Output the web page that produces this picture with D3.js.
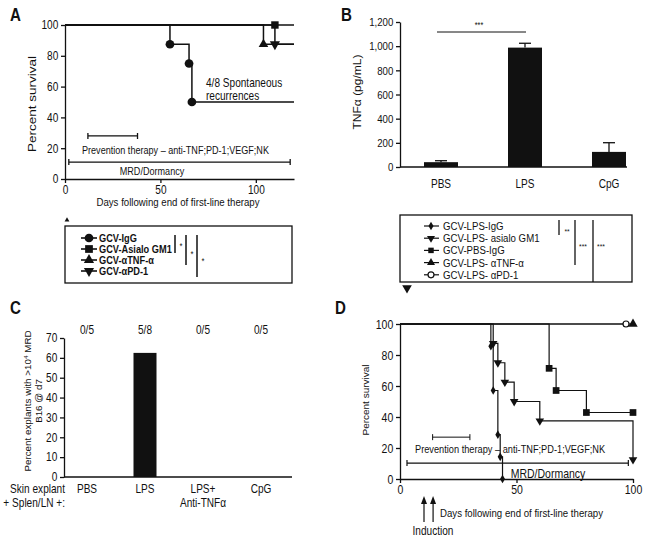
<!DOCTYPE html>
<html><head><meta charset="utf-8">
<script src="https://cdn.jsdelivr.net/npm/d3@7"></script>
<style>
body{margin:0;background:#fff;}
</style></head><body>
<svg id="fig" width="648" height="541" xmlns="http://www.w3.org/2000/svg"></svg>
<script>
// ================= DATA =================
// Panel A – Kaplan-Meier survival
const aNames = ['GCV-IgG', 'GCV-Asialo GM1', 'GCV-αTNF-α', 'GCV-αPD-1'];
const aIgGDays = [0, 55, 65, 66.5, 120];
const aIgGSurv = [100, 87.5, 75, 50, 50];
const aIgGMarkDays = [55, 65, 66.5];
const aIgGMarkSurv = [87.5, 75, 50];
const aAsialoDays = [0, 120];
const aAsialoSurv = [100, 100];
const aAsialoMarkDays = [110];
const aAsialoMarkSurv = [100];
const aTnfDays = [0, 104, 120];
const aTnfSurv = [100, 87.5, 87.5];
const aTnfMarkDays = [104];
const aTnfMarkSurv = [87.5];
const aPd1Days = [0, 110, 120];
const aPd1Surv = [100, 87.5, 87.5];
const aPd1MarkDays = [110];
const aPd1MarkSurv = [87.5];
const aXTicks = [0, 50, 100];
const aYTicks = [0, 20, 40, 60, 80, 100];
const aPrevention = [12, 38];
const aMRD = [2, 118];
const aSig = ['*', '*', '*'];

// Panel B – TNFα bars
const bCats = ['PBS', 'LPS', 'CpG'];
const bValues = [40, 988, 125];
const bErrors = [12, 36, 76];
const bYTicks = [0, 200, 400, 600, 800, 1000, 1200];
const bNames = ['GCV-LPS-IgG', 'GCV-LPS- asialo GM1', 'GCV-PBS-IgG', 'GCV-LPS- αTNF-α', 'GCV-LPS- αPD-1'];
const bSig = ['**', '***', '***'];

// Panel C – explants
const cCats = ['PBS', 'LPS', 'LPS+', 'CpG'];
const cSubLabels = ['', '', 'Anti-TNFα', ''];
const cValues = [0, 62.5, 0, 0];
const cCounts = ['0/5', '5/8', '0/5', '0/5'];
const cYTicks = [0, 10, 20, 30, 40, 50, 60, 70];

// Panel D – Kaplan-Meier survival
const dLpsIgGDays = [0, 39, 40, 42, 43, 44];
const dLpsIgGSurv = [100, 85.7, 57.1, 28.6, 14.3, 0];
const dAsialoDays = [0, 40, 42, 45, 49, 60, 100];
const dAsialoSurv = [100, 87.5, 75, 62.5, 50, 37.5, 12.5];
const dPbsIgGDays = [0, 64, 67, 80, 100];
const dPbsIgGSurv = [100, 71.4, 57.1, 42.9, 42.9];
const dTnfDays = [0, 100];
const dTnfSurv = [100, 100];
const dPd1Days = [0, 97];
const dPd1Surv = [100, 100];
const dXTicks = [0, 50, 100];
const dYTicks = [0, 20, 40, 60, 80, 100];
const dPrevention = [14, 30];
const dMRD = [3, 98];
const dInduction = [10.3, 14.2];

// ================= STYLE / HELPERS =================
const SANS = "'Liberation Sans',Arial,sans-serif";
const SX = 0.84; // horizontal condensation of the reference lettering
const INK = '#111';
const svg = d3.select('#fig');
svg.append('rect').attr('width', 648).attr('height', 541).attr('fill', '#fff');

const symTypes = {circle: d3.symbolCircle, square: d3.symbolSquare, triangle: d3.symbolTriangle,
  triangleDown: d3.symbolTriangle, diamond: d3.symbolDiamond, circleOpen: d3.symbolCircle};
function drawSym(g, kind, size, x, y) {
  const p = g.append('path')
    .attr('d', d3.symbol().type(symTypes[kind]).size(size)())
    .attr('transform', `translate(${x},${y})` + (kind === 'triangleDown' ? ' rotate(180)' : ''));
  if (kind === 'circleOpen') p.attr('fill', '#fff').attr('stroke', INK).attr('stroke-width', 1.2);
  else p.attr('fill', INK);
  return p;
}
function txt(g, x, y, s, size, opts = {}) {
  const t = g.append('text').attr('transform', `translate(${x},${y}) scale(${SX},1)`).text(s)
    .attr('font-family', SANS).attr('font-size', size)
    .attr('fill', INK).attr('text-anchor', opts.anchor || 'start');
  if (opts.weight) t.attr('font-weight', opts.weight);
  return t;
}
function vtxt(g, cx, cy, s, size) {
  return g.append('text').attr('transform', `translate(${cx},${cy}) rotate(-90) scale(1,${SX})`)
    .attr('text-anchor', 'middle').attr('font-family', SANS)
    .attr('font-size', size).attr('fill', INK).text(s);
}
function bracket(g, x1, x2, y, cap, w) {
  const p = d3.path();
  p.moveTo(x1, y); p.lineTo(x2, y);
  p.moveTo(x1, y - cap); p.lineTo(x1, y + cap);
  p.moveTo(x2, y - cap); p.lineTo(x2, y + cap);
  g.append('path').attr('d', p.toString()).attr('stroke', INK).attr('stroke-width', w || 1.3).attr('fill', 'none');
}
function styleAxis(sel, fontSize) {
  sel.selectAll('path,line').attr('stroke', INK).attr('stroke-width', 1.3);
  sel.selectAll('text').attr('font-family', SANS).attr('font-size', fontSize).attr('fill', INK)
    .attr('transform', `scale(${SX},1)`);
}
function km(g, x, y, days, surv, w) {
  const pts = days.map((t, i) => ({t, s: surv[i]}));
  g.append('path').datum(pts)
    .attr('d', d3.line().x(d => x(d.t)).y(d => y(d.s)).curve(d3.curveStepAfter))
    .attr('fill', 'none').attr('stroke', INK).attr('stroke-width', w || 1.5);
}
function marks(g, x, y, days, surv, kind, size) {
  days.forEach((t, i) => drawSym(g, kind, size, x(t), y(surv[i])));
}

// ================= PANEL A =================
{
  const g = svg.append('g');
  const x = d3.scaleLinear().domain([0, 120]).range([65, 294]);
  const y = d3.scaleLinear().domain([0, 100]).range([179, 25]);
  txt(g, 10, 21, 'A', 18, {weight: 'bold'});
  km(g, x, y, aAsialoDays, aAsialoSurv);
  km(g, x, y, aTnfDays, aTnfSurv);
  km(g, x, y, aPd1Days, aPd1Surv);
  km(g, x, y, aIgGDays, aIgGSurv);
  marks(g, x, y, aIgGMarkDays, aIgGMarkSurv, 'circle', 60);
  marks(g, x, y, aTnfMarkDays, aTnfMarkSurv, 'triangle', 40);
  marks(g, x, y, aPd1MarkDays, aPd1MarkSurv, 'triangleDown', 45);
  marks(g, x, y, aAsialoMarkDays, aAsialoMarkSurv, 'square', 55);
  const ay = g.append('g').attr('transform', `translate(${x(0)},0)`)
    .call(d3.axisLeft(y).tickValues(aYTicks).tickSize(4).tickSizeOuter(0).tickPadding(4));
  styleAxis(ay, 12);
  const ax = g.append('g').attr('transform', `translate(0,${y(0)})`)
    .call(d3.axisBottom(x).tickValues(aXTicks).tickSize(4).tickSizeOuter(0).tickPadding(2));
  styleAxis(ax, 12);
  vtxt(g, 36, 104, 'Percent survival', 13.5);
  txt(g, 178, 206, 'Days following end of first-line therapy', 11.5, {anchor: 'middle'});
  txt(g, 206, 87, '4/8 Spontaneous', 12);
  txt(g, 206, 99.5, 'recurrences', 12);
  bracket(g, x(aPrevention[0]), x(aPrevention[1]), y(28), 3);
  txt(g, 82, 154, 'Prevention therapy – anti-TNF;PD-1;VEGF;NK', 10.8);
  bracket(g, x(aMRD[0]), x(aMRD[1]), y(11), 3);
  txt(g, 152, 175, 'MRD/Dormancy', 10.8, {anchor: 'middle'});

  // legend A
  drawSym(g, 'triangle', 10, 67, 220);
  g.append('rect').attr('x', 65).attr('y', 226).attr('width', 227).attr('height', 57)
    .attr('fill', 'none').attr('stroke', INK).attr('stroke-width', 1.3);
  const kinds = ['circle', 'square', 'triangle', 'triangleDown'];
  const sizes = [60, 60, 45, 45];
  aNames.forEach((n, i) => {
    const cy = 238 + i * 11;
    g.append('line').attr('x1', 81).attr('x2', 97).attr('y1', cy).attr('y2', cy)
      .attr('stroke', INK).attr('stroke-width', 1.6);
    drawSym(g, kinds[i], sizes[i], 89, cy);
    txt(g, 99, cy + 4, n, 11, {weight: 'bold'});
  });
  aSig.forEach((s, i) => {
    const lx = 175 + i * 11;
    g.append('line').attr('x1', lx).attr('x2', lx).attr('y1', 235).attr('y2', 253 + i * 12)
      .attr('stroke', INK).attr('stroke-width', 1.5);
    txt(g, lx + 6, 249 + i * 7.5, s, 9, {anchor: 'middle'});
  });
}

// ================= PANEL B =================
{
  const g = svg.append('g');
  const y = d3.scaleLinear().domain([0, 1200]).range([167, 22]);
  const x = d3.scalePoint().domain(bCats).range([441, 609]);
  const bw = 34;
  txt(g, 341, 21, 'B', 18, {weight: 'bold'});
  bCats.forEach((c, i) => {
    const cx = x(c);
    g.append('line').attr('x1', cx).attr('x2', cx).attr('y1', y(bValues[i])).attr('y2', y(bValues[i] + bErrors[i]))
      .attr('stroke', INK).attr('stroke-width', 1.3);
    g.append('line').attr('x1', cx - 6).attr('x2', cx + 6)
      .attr('y1', y(bValues[i] + bErrors[i])).attr('y2', y(bValues[i] + bErrors[i]))
      .attr('stroke', INK).attr('stroke-width', 1.3);
  });
  g.selectAll('rect.bar').data(bValues).join('rect').attr('class', 'bar')
    .attr('x', (d, i) => x(bCats[i]) - bw / 2).attr('width', bw)
    .attr('y', d => y(d)).attr('height', d => y(0) - y(d)).attr('fill', INK);
  const ay = g.append('g').attr('transform', 'translate(400,0)')
    .call(d3.axisLeft(y).tickValues(bYTicks).tickFormat(d3.format(',')).tickSize(4).tickSizeOuter(0).tickPadding(4));
  styleAxis(ay, 11.5);
  g.append('line').attr('x1', 400).attr('x2', 627).attr('y1', y(0)).attr('y2', y(0))
    .attr('stroke', INK).attr('stroke-width', 1.3);
  bCats.forEach(c => txt(g, x(c), 188, c, 12, {anchor: 'middle'}));
  vtxt(g, 361, 92, 'TNFα (pg/mL)', 12);
  g.append('line').attr('x1', 437).attr('x2', 526).attr('y1', 32).attr('y2', 32)
    .attr('stroke', INK).attr('stroke-width', 1);
  txt(g, 479, 28, '***', 8.5, {anchor: 'middle'});

  // legend B
  g.append('rect').attr('x', 400).attr('y', 215).attr('width', 232).attr('height', 67)
    .attr('fill', 'none').attr('stroke', INK).attr('stroke-width', 1.3);
  const kinds = ['diamond', 'triangleDown', 'square', 'triangle', 'circleOpen'];
  const sizes = [22, 28, 30, 28, 28];
  bNames.forEach((n, i) => {
    const cy = 226 + i * 12.2;
    g.append('line').attr('x1', 424).attr('x2', 439).attr('y1', cy).attr('y2', cy)
      .attr('stroke', INK).attr('stroke-width', 1.2);
    drawSym(g, kinds[i], sizes[i], 431, cy);
    txt(g, 443, cy + 4, n, 11.5);
  });
  const sx = [559, 575, 593];
  const sEnd = [235, 265, 282];
  const sTy = [234, 249, 249];
  bSig.forEach((s, i) => {
    g.append('line').attr('x1', sx[i]).attr('x2', sx[i]).attr('y1', 220).attr('y2', sEnd[i])
      .attr('stroke', INK).attr('stroke-width', 1.3);
    txt(g, sx[i] + 8, sTy[i], s, 8, {anchor: 'middle'});
  });
  drawSym(g, 'triangleDown', 40, 407, 288);
}

// ================= PANEL C =================
{
  const g = svg.append('g');
  const y = d3.scaleLinear().domain([0, 70]).range([477, 338]);
  const x = d3.scalePoint().domain(cCats).range([87, 261]);
  const bw = 23;
  txt(g, 10, 314, 'C', 18, {weight: 'bold'});
  g.selectAll('rect.bar').data(cValues).join('rect').attr('class', 'bar')
    .attr('x', (d, i) => x(cCats[i]) - bw / 2).attr('width', bw)
    .attr('y', d => y(d)).attr('height', d => y(0) - y(d)).attr('fill', INK);
  const ay = g.append('g').attr('transform', 'translate(64,0)')
    .call(d3.axisLeft(y).tickValues(cYTicks).tickSize(4).tickSizeOuter(0).tickPadding(4));
  styleAxis(ay, 12);
  g.append('line').attr('x1', 64).attr('x2', 292).attr('y1', y(0)).attr('y2', y(0))
    .attr('stroke', INK).attr('stroke-width', 1.3);
  cCats.forEach((c, i) => {
    txt(g, x(c), 493, c, 12, {anchor: 'middle'});
    if (cSubLabels[i]) txt(g, x(c), 507, cSubLabels[i], 12, {anchor: 'middle'});
    txt(g, x(c), 334, cCounts[i], 12, {anchor: 'middle'});
  });
  txt(g, 65, 493, 'Skin explant', 12, {anchor: 'end'});
  txt(g, 65, 507, '+ Splen/LN +:', 12, {anchor: 'end'});
  const yl = g.append('text').attr('transform', `translate(31,401) rotate(-90) scale(1,${SX})`)
    .attr('text-anchor', 'middle').attr('font-family', SANS).attr('font-size', 9.8).attr('fill', INK);
  yl.append('tspan').text('Percent explants with >10');
  yl.append('tspan').attr('dy', -4).attr('font-size', 6.5).text('4');
  yl.append('tspan').attr('dy', 4).text(' MRD');
  vtxt(g, 42, 401, 'B16 @ d7', 9.8);
}

// ================= PANEL D =================
{
  const g = svg.append('g');
  const x = d3.scaleLinear().domain([0, 100]).range([400, 633]);
  const y = d3.scaleLinear().domain([0, 100]).range([479, 324]);
  txt(g, 335, 314, 'D', 18, {weight: 'bold'});
  const lw = 1.2;
  km(g, x, y, dTnfDays, dTnfSurv, lw);
  km(g, x, y, dPd1Days, dPd1Surv, lw);
  km(g, x, y, dPbsIgGDays, dPbsIgGSurv, lw);
  km(g, x, y, dAsialoDays, dAsialoSurv, lw);
  km(g, x, y, dLpsIgGDays, dLpsIgGSurv, lw);
  marks(g, x, y, dLpsIgGDays.slice(1), dLpsIgGSurv.slice(1), 'diamond', 22);
  marks(g, x, y, dAsialoDays.slice(1), dAsialoSurv.slice(1), 'triangleDown', 32);
  marks(g, x, y, dPbsIgGDays.slice(1), dPbsIgGSurv.slice(1), 'square', 45);
  marks(g, x, y, dTnfDays.slice(1), dTnfSurv.slice(1), 'triangle', 38);
  marks(g, x, y, dPd1Days.slice(1), dPd1Surv.slice(1), 'circleOpen', 28);
  const ay = g.append('g').attr('transform', `translate(${x(0)},0)`)
    .call(d3.axisLeft(y).tickValues(dYTicks).tickSize(4).tickSizeOuter(0).tickPadding(4));
  styleAxis(ay, 12.5);
  const ax = g.append('g').attr('transform', `translate(0,${y(0)})`)
    .call(d3.axisBottom(x).tickValues(dXTicks).tickSize(4).tickSizeOuter(0).tickPadding(2));
  styleAxis(ax, 12.5);
  vtxt(g, 369, 400, 'Percent survival', 10);
  bracket(g, x(dPrevention[0]), x(dPrevention[1]), y(27), 3, 1);
  txt(g, 415, 453, 'Prevention therapy – anti-TNF;PD-1;VEGF;NK', 11);
  bracket(g, x(dMRD[0]), x(dMRD[1]), y(10.3), 3, 1.2);
  txt(g, 548, 478, 'MRD/Dormancy', 12.5, {anchor: 'middle'});
  txt(g, 440, 517, 'Days following end of first-line therapy', 11.5);
  dInduction.forEach(d => {
    g.append('line').attr('x1', x(d)).attr('x2', x(d)).attr('y1', 503).attr('y2', 522)
      .attr('stroke', INK).attr('stroke-width', 1.2);
    g.append('path').attr('d', `M${x(d)},496 L${x(d) - 3},504 L${x(d) + 3},504 Z`).attr('fill', INK);
  });
  txt(g, 433, 535, 'Induction', 12, {anchor: 'middle'});
}
</script>
</body></html>
